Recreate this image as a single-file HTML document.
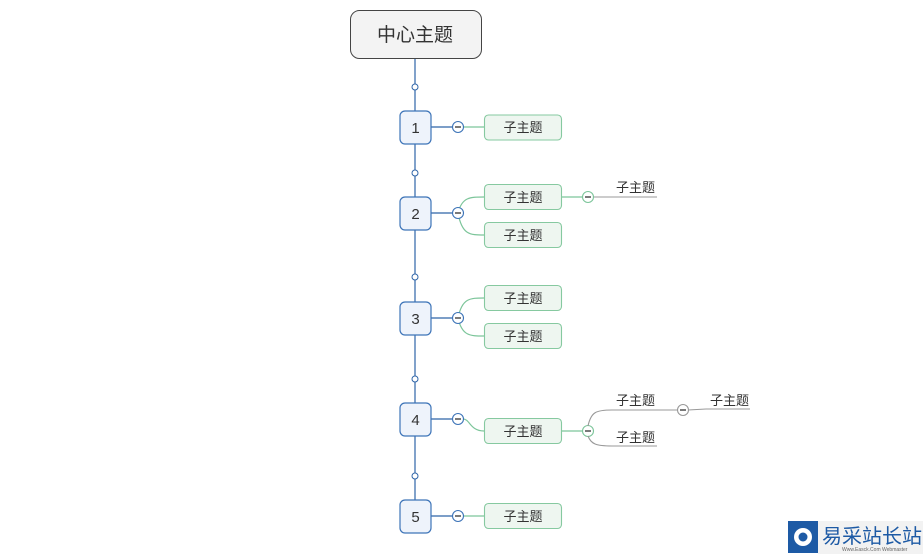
<!DOCTYPE html>
<html><head><meta charset="utf-8"><style>
html,body{margin:0;padding:0;background:#fff;}
svg{display:block;font-family:"Liberation Sans","Noto Sans CJK SC",sans-serif;}
</style></head><body>
<svg width="923" height="554" viewBox="0 0 923 554">
<!-- spine -->
<line x1="415" y1="58" x2="415" y2="500" stroke="#2e64a8" stroke-width="1.2"/>
<rect x="350.5" y="10.5" width="131" height="48" rx="9" fill="#f3f3f3" stroke="#444" stroke-width="1"/>
<text x="415" y="41" font-size="19" text-anchor="middle" fill="#333">中心主题</text>
<g fill="#fff" stroke="#2e64a8" stroke-width="1">
<circle cx="415" cy="87" r="3"/><circle cx="415" cy="173" r="3"/><circle cx="415" cy="277" r="3"/><circle cx="415" cy="379" r="3"/><circle cx="415" cy="476" r="3"/>
</g>
<!-- connectors from number boxes -->
<g stroke="#2e64a8" stroke-width="1.2">
<line x1="431" y1="127" x2="453" y2="127"/><line x1="431" y1="213" x2="453" y2="213"/><line x1="431" y1="318" x2="453" y2="318"/><line x1="431" y1="419" x2="453" y2="419"/><line x1="431" y1="516" x2="453" y2="516"/>
</g>
<g fill="none" stroke="#7cc59a" stroke-width="1.2">
<line x1="463" y1="127" x2="484" y2="127"/>
<path d="M458 213 C462 197 470 197 484 197"/><path d="M458 213 C462 235 470 235 484 235"/>
<path d="M458 318 C462 298 470 298 484 298"/><path d="M458 318 C462 336 470 336 484 336"/>
<path d="M463 419 C470 419 470 431 484 431"/>
<line x1="463" y1="516" x2="484" y2="516"/>
<line x1="562" y1="197" x2="583" y2="197"/>
<line x1="562" y1="431" x2="583" y2="431"/>
</g>
<!-- number boxes -->
<g fill="#eef3fb" stroke="#3d74b8" stroke-width="1.2">
<rect x="400" y="111" width="31" height="33" rx="5"/><rect x="400" y="197" width="31" height="33" rx="5"/><rect x="400" y="302" width="31" height="33" rx="5"/><rect x="400" y="403" width="31" height="33" rx="5"/><rect x="400" y="500" width="31" height="33" rx="5"/>
</g>
<g font-size="15" text-anchor="middle" fill="#333">
<text x="415.5" y="133">1</text><text x="415.5" y="219">2</text><text x="415.5" y="324">3</text><text x="415.5" y="425">4</text><text x="415.5" y="522">5</text>
</g>
<!-- minus circles blue -->
<g fill="#fff" stroke="#3d74b8" stroke-width="1.1">
<circle cx="458" cy="127" r="5.5"/><circle cx="458" cy="213" r="5.5"/><circle cx="458" cy="318" r="5.5"/><circle cx="458" cy="419" r="5.5"/><circle cx="458" cy="516" r="5.5"/>
</g>
<g stroke="#333" stroke-width="1.3">
<line x1="455" y1="127" x2="461" y2="127"/><line x1="455" y1="213" x2="461" y2="213"/><line x1="455" y1="318" x2="461" y2="318"/><line x1="455" y1="419" x2="461" y2="419"/><line x1="455" y1="516" x2="461" y2="516"/>
</g>
<!-- child boxes -->
<g fill="#eef6f0" stroke="#86c9a0" stroke-width="1.1">
<rect x="484.5" y="115" width="77" height="25" rx="4"/>
<rect x="484.5" y="184.5" width="77" height="25" rx="4"/>
<rect x="484.5" y="222.5" width="77" height="25" rx="4"/>
<rect x="484.5" y="285.5" width="77" height="25" rx="4"/>
<rect x="484.5" y="323.5" width="77" height="25" rx="4"/>
<rect x="484.5" y="418.5" width="77" height="25" rx="4"/>
<rect x="484.5" y="503.5" width="77" height="25" rx="4"/>
</g>
<g font-size="13" text-anchor="middle" fill="#333">
<text x="523" y="132">子主题</text><text x="523" y="202">子主题</text><text x="523" y="240">子主题</text>
<text x="523" y="303">子主题</text><text x="523" y="341">子主题</text><text x="523" y="436">子主题</text><text x="523" y="521">子主题</text>
</g>
<!-- green minus circles -->
<g fill="#fff" stroke="#7cc59a" stroke-width="1.1">
<circle cx="588" cy="197" r="5.5"/><circle cx="588" cy="431" r="5.5"/>
</g>
<g stroke="#333" stroke-width="1.3">
<line x1="585" y1="197" x2="591" y2="197"/><line x1="585" y1="431" x2="591" y2="431"/>
</g>
<!-- gray sub branches -->
<g fill="none" stroke="#999" stroke-width="1.1">
<line x1="594" y1="197" x2="657" y2="197"/>
<path d="M588 426 C591 412 596 410 612 410 L678 410"/>
<path d="M588 436 C591 444 596 446 612 446 L657 446"/>
<line x1="688" y1="410" x2="706" y2="409"/><line x1="706" y1="409" x2="750" y2="409"/>
</g>
<circle cx="683" cy="410" r="5.5" fill="#fff" stroke="#999" stroke-width="1.1"/>
<line x1="680" y1="410" x2="686" y2="410" stroke="#333" stroke-width="1.3"/>
<g font-size="13" fill="#333">
<text x="616" y="192">子主题</text><text x="616" y="405">子主题</text><text x="616" y="442">子主题</text><text x="710" y="405">子主题</text>
</g>
<!-- watermark -->
<rect x="788" y="521" width="30" height="32" fill="#1d5aa5"/>
<circle cx="803" cy="537" r="9" fill="#fff"/>
<circle cx="803" cy="537" r="4.5" fill="#1d5aa5"/>
<rect x="818" y="521" width="105" height="33" fill="#f2f2f2"/>
<text x="822" y="543" font-size="20" fill="#1d5aa5">易采站长站</text>
<text x="842" y="551" font-size="5" fill="#666">Www.Easck.Com  Webmaster</text>
</svg>
</body></html>
